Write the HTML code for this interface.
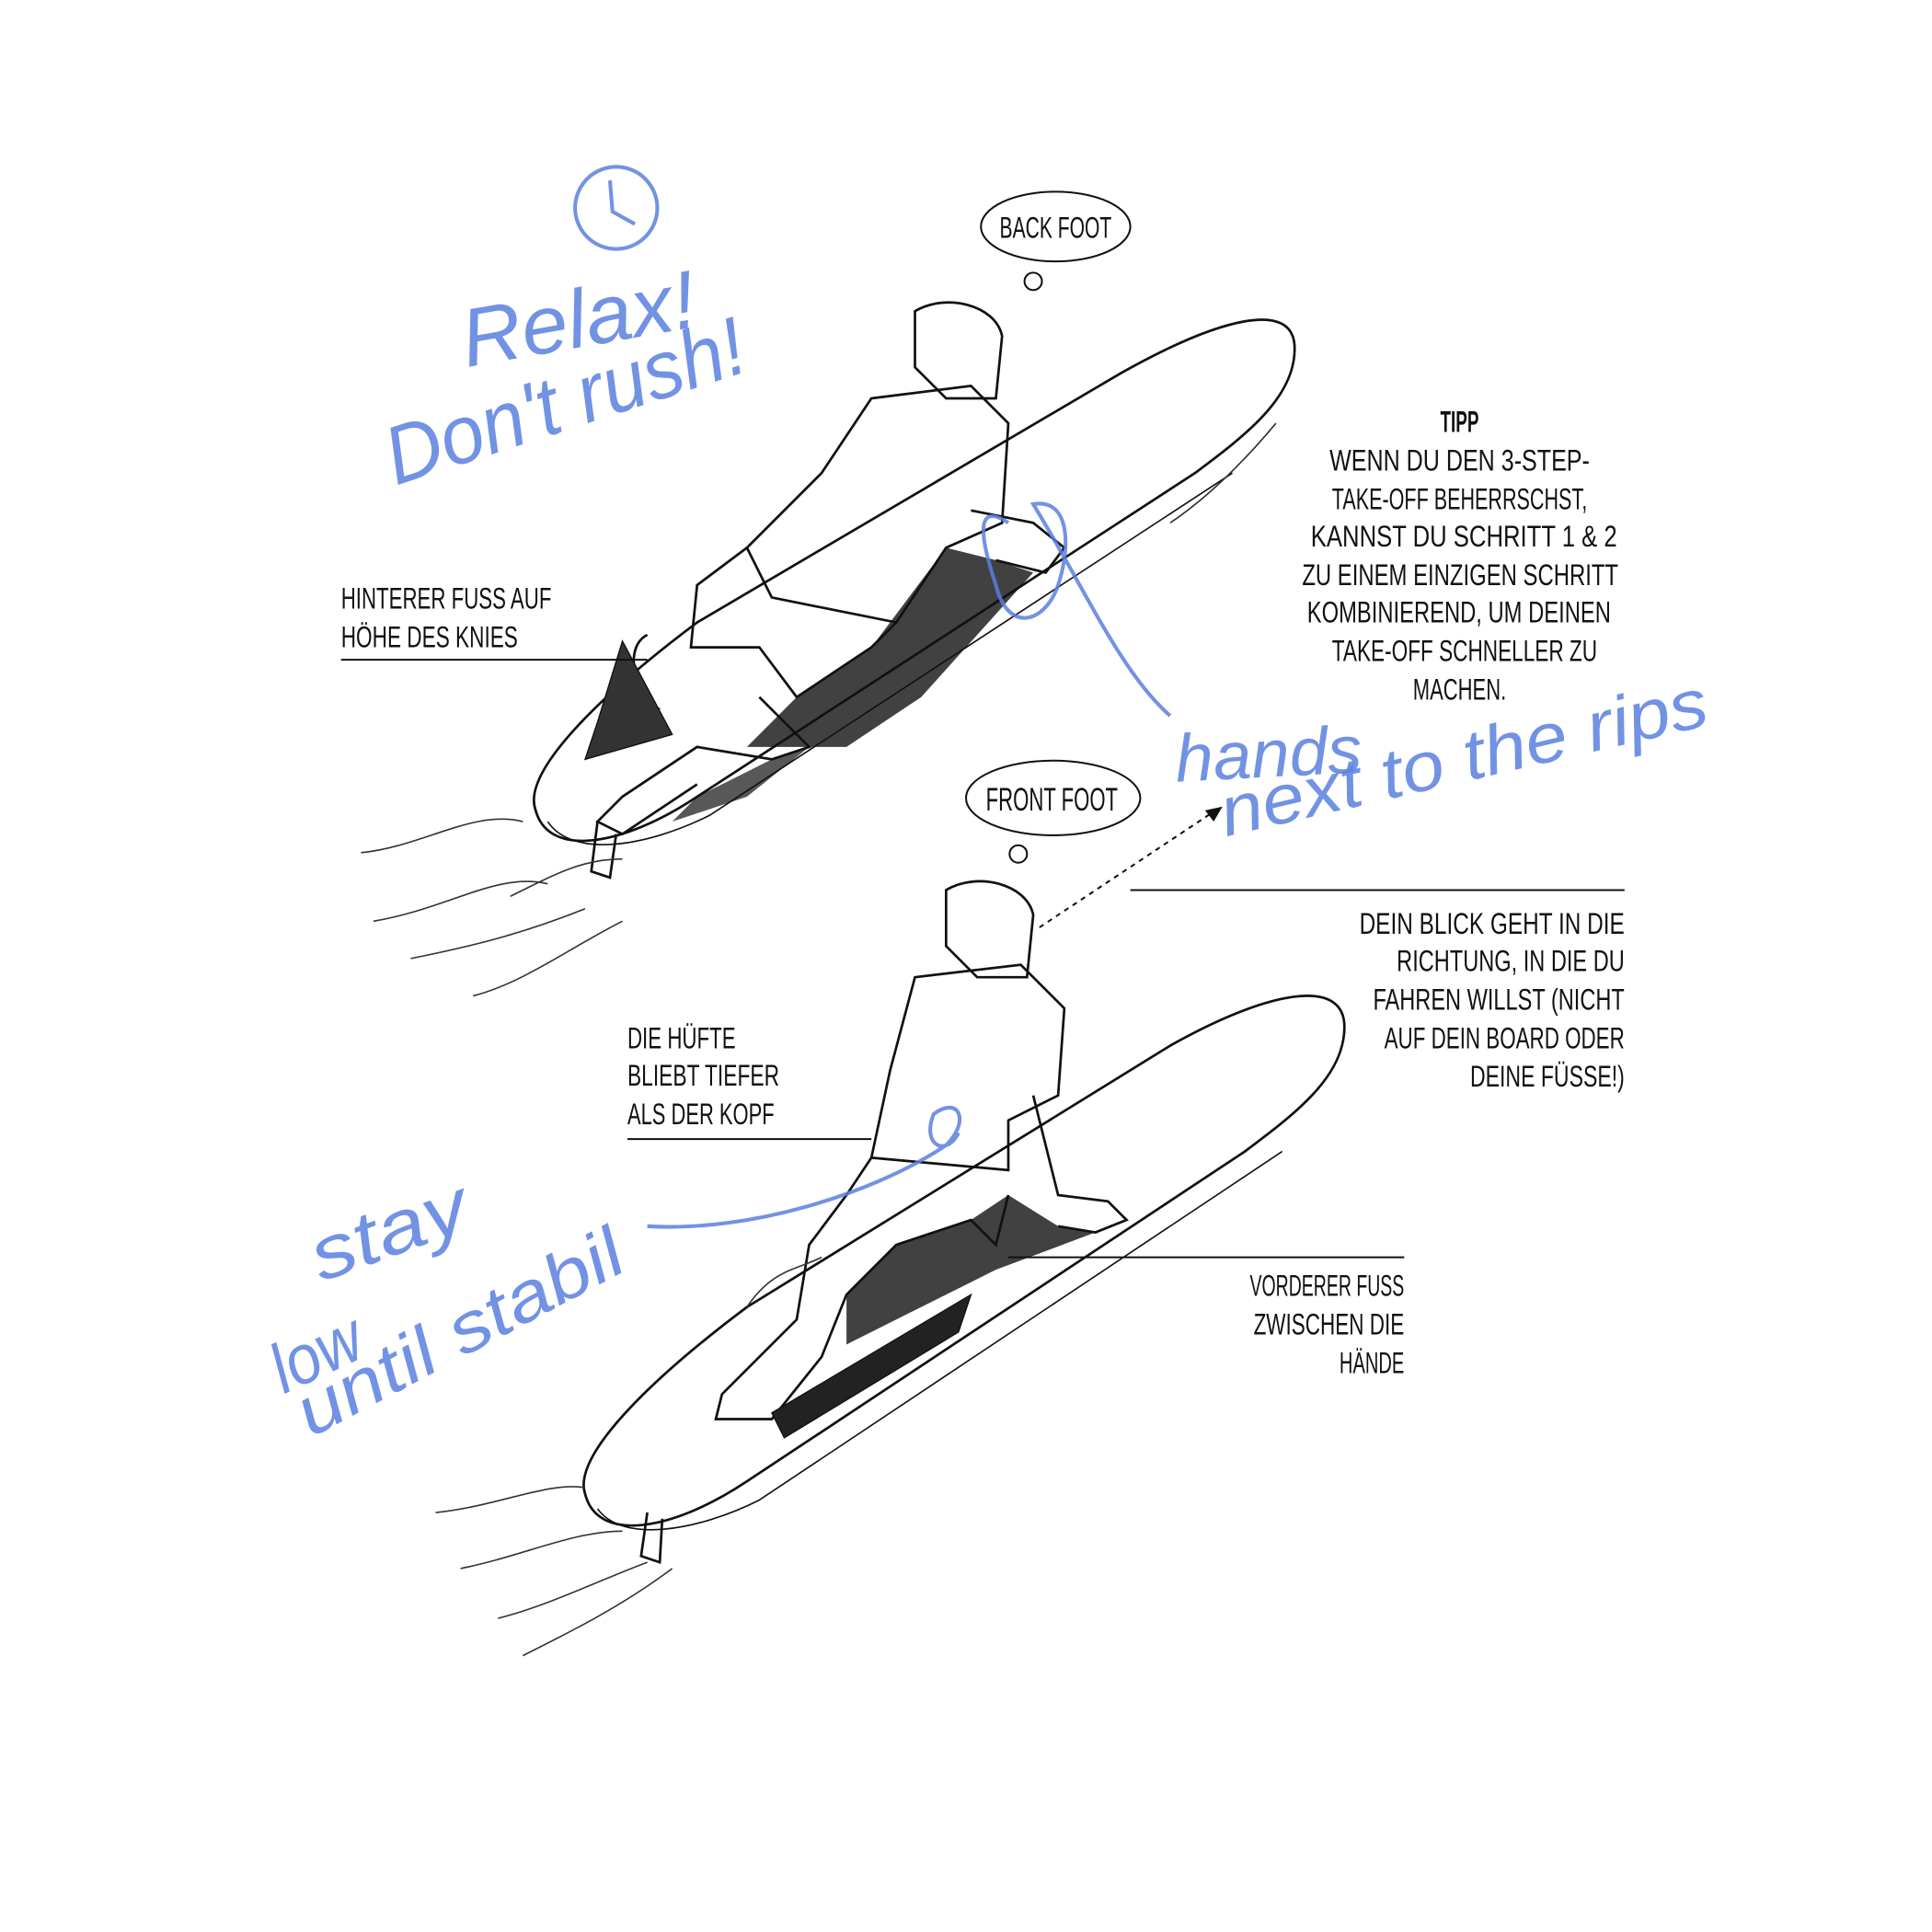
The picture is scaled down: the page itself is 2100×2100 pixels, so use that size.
<!DOCTYPE html>
<html><head><meta charset="utf-8"><style>
html,body{margin:0;padding:0;background:#fff}
svg{display:block}
.l{font-family:"Liberation Sans",sans-serif;font-size:24px;fill:#111}
.b{font-family:"Liberation Sans",sans-serif;font-style:italic;fill:#5a7fe0;opacity:.85}
</style></head><body>
<svg width="2100" height="2100" viewBox="0 0 1552 1552" xmlns="http://www.w3.org/2000/svg">
<rect width="1552" height="1552" fill="#fff"/>
<g fill="none" stroke="#111" stroke-width="2">
<path d="M430 650 C420 620 480 560 560 500 L900 300 C980 255 1040 240 1040 280 C1040 320 1000 350 960 380 L560 640 C500 680 440 690 430 650 Z"/>
<path d="M440 660 C460 690 520 680 570 655 L990 380" stroke-width="1.2"/>
<path d="M470 1200 C460 1170 520 1110 600 1050 L940 840 C1020 795 1080 785 1080 825 C1080 865 1040 895 1000 925 L600 1190 C540 1230 480 1240 470 1200 Z"/>
<path d="M480 1212 C500 1240 560 1230 610 1205 L1030 925" stroke-width="1.2"/>
<path d="M735 250 C760 235 800 245 805 270 L800 320 L760 320 L735 295 Z"/>
<path d="M700 320 L780 310 L810 340 L805 420 L760 440 L720 500 L620 480 L600 440 L660 380 Z"/>
<path d="M600 440 L560 470 L555 520 L610 520 L640 560 L700 520 L720 500"/>
<path d="M610 560 L650 600 L620 610 L560 600 L500 640 L480 660 L500 670 L560 630"/>
<path d="M780 410 L830 420 L855 440 L840 460 L800 450"/>
<path d="M480 660 L475 700 L490 705 L495 670"/>
<path d="M520 510 C500 520 510 560 530 570" />
<path d="M760 715 C785 700 825 710 830 735 L825 785 L785 785 L760 760 Z"/>
<path d="M735 785 L820 775 L855 810 L850 880 L810 900 L810 940 L700 930 L715 860 Z"/>
<path d="M700 930 L680 960 L650 1000 L640 1060 L620 1080 L580 1120 L575 1140 L620 1140 L660 1090 L680 1040 L720 1000 L780 980 L800 1000 L810 960"/>
<path d="M830 880 L850 960 L890 965 L905 980 L880 990 L850 985"/>
<path d="M520 1215 L515 1250 L530 1255 L532 1220"/>
<path d="M620 1135 L780 1040 L770 1070 L630 1155 Z" fill="#222" stroke-width="1"/>
<path d="M500 515 L540 590 L470 610 L480 580 Z" fill="#333" stroke-width="1"/>
</g>
<path d="M760 440 L800 450 L830 460 L740 560 L680 600 L600 600 L640 560 L700 520 Z" fill="#111" opacity=".8"/>
<path d="M720 1000 L780 980 L810 960 L850 985 L880 990 L800 1020 L720 1060 L680 1080 L680 1040 Z" fill="#111" opacity=".8"/>
<path d="M560 640 L620 610 L650 600 L600 640 L540 660 Z" fill="#111" opacity=".7"/>
<g fill="none" stroke="#333" stroke-width="1.2">
<path d="M290 685 C340 680 380 650 420 660 M300 740 C360 730 400 700 440 710 M330 770 C380 760 420 750 470 730 M380 800 C420 790 460 760 500 740 M410 720 C450 700 470 690 500 690"/>
<path d="M350 1215 C400 1210 440 1190 470 1195 M370 1260 C420 1250 460 1230 500 1230 M400 1300 C440 1290 480 1270 520 1255 M420 1330 C460 1310 500 1290 540 1260"/>
<path d="M940 420 C970 400 1000 370 1025 340 M600 1050 C620 1020 640 1020 660 1010"/>
</g>
<g fill="#fff" stroke="#111" stroke-width="1.5">
<ellipse cx="848" cy="182" rx="60" ry="28"/><circle cx="830" cy="226" r="7"/>
<ellipse cx="846" cy="641" rx="70" ry="30"/><circle cx="818" cy="686" r="7"/>
</g>
<text class="l" x="803" y="191" textLength="90" lengthAdjust="spacingAndGlyphs">BACK FOOT</text>
<text class="l" x="792" y="651" textLength="106" lengthAdjust="spacingAndGlyphs" style="font-size:26px">FRONT FOOT</text>
<g stroke="#111" stroke-width="1.5">
<line x1="274" y1="530" x2="520" y2="530"/>
<line x1="908" y1="715" x2="1305" y2="715"/>
<line x1="504" y1="915" x2="700" y2="915"/>
<line x1="810" y1="1010" x2="1128" y2="1010"/>
<line x1="835" y1="745" x2="975" y2="652" stroke-dasharray="4 4"/>
</g>
<path d="M982 648 L968 651 L975 660 Z" fill="#111"/>
<g class="l" lengthAdjust="spacingAndGlyphs">
<text x="1157" y="347" textLength="31" lengthAdjust="spacingAndGlyphs" style="font-weight:bold">TIPP</text>
<text x="1068" y="378" textLength="209" lengthAdjust="spacingAndGlyphs">WENN DU DEN 3-STEP-</text>
<text x="1070" y="409" textLength="205" lengthAdjust="spacingAndGlyphs">TAKE-OFF BEHERRSCHST,</text>
<text x="1053" y="439" textLength="246" lengthAdjust="spacingAndGlyphs">KANNST DU SCHRITT 1 &amp; 2</text>
<text x="1046" y="470" textLength="254" lengthAdjust="spacingAndGlyphs">ZU EINEM EINZIGEN SCHRITT</text>
<text x="1050" y="500" textLength="244" lengthAdjust="spacingAndGlyphs">KOMBINIEREND, UM DEINEN</text>
<text x="1070" y="531" textLength="213" lengthAdjust="spacingAndGlyphs">TAKE-OFF SCHNELLER ZU</text>
<text x="1135" y="562" textLength="75" lengthAdjust="spacingAndGlyphs">MACHEN.</text>
<text x="274" y="489" textLength="169" lengthAdjust="spacingAndGlyphs">HINTERER FUSS AUF</text>
<text x="274" y="520" textLength="142" lengthAdjust="spacingAndGlyphs">HÖHE DES KNIES</text>
<text x="1092" y="750" textLength="213" lengthAdjust="spacingAndGlyphs">DEIN BLICK GEHT IN DIE</text>
<text x="1122" y="780" textLength="183" lengthAdjust="spacingAndGlyphs">RICHTUNG, IN DIE DU</text>
<text x="1103" y="811" textLength="202" lengthAdjust="spacingAndGlyphs">FAHREN WILLST (NICHT</text>
<text x="1112" y="842" textLength="193" lengthAdjust="spacingAndGlyphs">AUF DEIN BOARD ODER</text>
<text x="1181" y="873" textLength="124" lengthAdjust="spacingAndGlyphs">DEINE FÜSSE!)</text>
<text x="1004" y="1041" textLength="124" lengthAdjust="spacingAndGlyphs">VORDERER FUSS</text>
<text x="1007" y="1072" textLength="121" lengthAdjust="spacingAndGlyphs">ZWISCHEN DIE</text>
<text x="1076" y="1103" textLength="52" lengthAdjust="spacingAndGlyphs">HÄNDE</text>
<text x="504" y="842" textLength="87" lengthAdjust="spacingAndGlyphs">DIE HÜFTE</text>
<text x="504" y="872" textLength="122" lengthAdjust="spacingAndGlyphs">BLIEBT TIEFER</text>
<text x="504" y="903" textLength="118" lengthAdjust="spacingAndGlyphs">ALS DER KOPF</text>
</g>
<g fill="none" stroke="#5a7fe0" stroke-width="3" opacity=".85">
<circle cx="495" cy="167" r="33"/>
<path d="M490 145 L492 170 L510 180"/>
<path d="M810 420 C780 400 790 440 800 470 C810 510 840 500 850 470 C860 440 860 400 830 405 C870 470 900 540 940 575"/>
<path d="M520 985 C600 990 700 960 760 920 C780 900 770 880 750 895 C740 920 760 930 770 910"/>
</g>
<text class="b" x="375" y="295" font-size="66" textLength="190" lengthAdjust="spacingAndGlyphs" transform="rotate(-10 375 295)">Relax!</text>
<text class="b" x="318" y="390" font-size="66" textLength="300" lengthAdjust="spacingAndGlyphs" transform="rotate(-18 318 390)">Don't rush!</text>
<text class="b" x="945" y="628" font-size="54" textLength="150" lengthAdjust="spacingAndGlyphs" transform="rotate(-3 945 628)">hands</text>
<text class="b" x="985" y="672" font-size="56" textLength="400" lengthAdjust="spacingAndGlyphs" transform="rotate(-13 985 672)">next to the rips</text>
<text class="b" x="258" y="1030" font-size="60" textLength="130" lengthAdjust="spacingAndGlyphs" transform="rotate(-20 258 1030)">stay</text>
<text class="b" x="228" y="1120" font-size="56" textLength="75" lengthAdjust="spacingAndGlyphs" transform="rotate(-25 228 1120)">low</text>
<text class="b" x="250" y="1155" font-size="56" textLength="290" lengthAdjust="spacingAndGlyphs" transform="rotate(-28 250 1155)">until stabil</text>
</svg>
</body></html>
